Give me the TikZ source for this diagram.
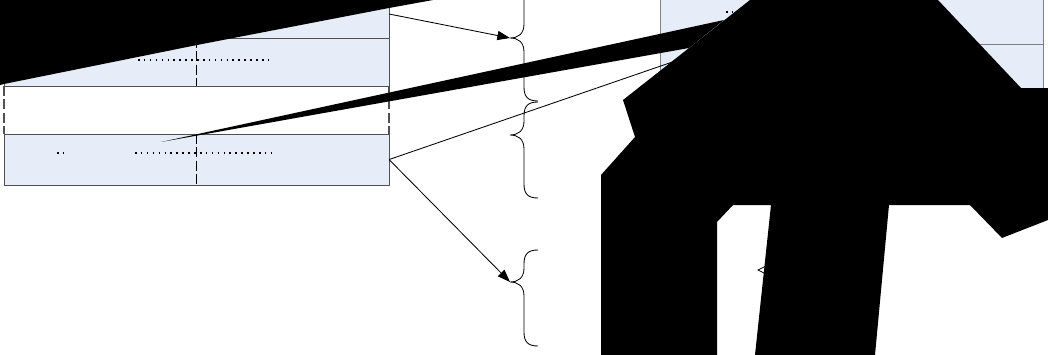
\documentclass[tikz,border=0pt]{standalone}
\usetikzlibrary{arrows.meta,positioning}

\definecolor{rowblue}{RGB}{230,237,248}
\definecolor{rowline}{RGB}{80,80,80}
\definecolor{panelline}{RGB}{128,128,128}

% curly brace opening to the left: top, tip, bottom (y in px)
\newcommand{\curlybrace}[3]{%
  \draw[bracelink] (538,#1) .. controls (528,#1) and (524,#1+4) .. (524,#1+14)
    -- (524,#2-14) .. controls (524,#2-4) and (518,#2) .. (510,#2)
    .. controls (518,#2) and (524,#2+4) .. (524,#2+14)
    -- (524,#3-14) .. controls (524,#3-4) and (528,#3) .. (538,#3);}

\begin{document}
\begin{tikzpicture}[
    x=0.025cm, y=-0.025cm,
    >=Latex,
    rowbox/.style={draw=rowline, line width=0.6pt, fill=rowblue, inner sep=0pt, outer sep=0pt, minimum width=9.625cm, minimum height=1.2cm},
    gapbox/.style={rowbox, draw=none, fill=none},
    panelbox/.style={rowbox, draw=panelline, minimum width=9.575cm},
    dotrule/.style={line width=1.1pt, dash pattern=on 1.1pt off 3.1pt},
    midrule/.style={line width=1.4pt, dash pattern=on 7pt off 2.5pt},
    siderule/.style={line width=0.9pt, dash pattern=on 7pt off 2.5pt, draw=rowline},
    link/.style={line width=0.6pt},
    arrowlink/.style={link, -{Triangle[length=9pt,width=6.5pt]}},
    bracelink/.style={line width=0.6pt},
    blot/.style={fill=black}
]
\useasboundingbox (0,0) rectangle (1048,355);

% left stack of rows
\node[rowbox] (rowA) at (196.5,14) {};
\node[rowbox, below=0pt of rowA] (rowB) {};
\node[gapbox, below=0pt of rowB] (rowC) {};
\node[rowbox, below=0pt of rowC, minimum height=1.275cm] (rowD) {};

\draw[midrule] (rowB.north) -- (rowB.south);
\draw[midrule] (rowD.north) -- (rowD.south);
\draw[siderule] (rowC.north west) -- (rowC.south west);
\draw[siderule] (rowC.north east) -- (rowC.south east);

\draw[dotrule] (138,60) -- (271,60);
\draw[dotrule] (135,153) -- (273,153);
\draw[dotrule] (57,153) -- (63,153);

% right panel
\node[panelbox] (panelA) at (851.5,20) {};
\node[panelbox, below=0pt of panelA] (panelB) {};
\draw[dotrule] (726,12) -- (733,12);

% braces
\curlybrace{-25}{38}{101}
\curlybrace{102}{135}{198}
\curlybrace{250}{282}{346}

\coordinate (tipA) at (510,38);
\coordinate (tipC) at (510,282);
\coordinate (panelhit) at (700,52.5);

\draw[arrowlink] (rowA.east) -- (tipA);
\draw[link] (rowD.east) -- (panelhit);
\draw[arrowlink] (rowD.east) -- (tipC);

\draw[link] (765,266.5) -- (758,270) -- (765,273.5);

% black blots
\fill[blot] (0,0) -- (433,0) -- (389,8) -- (197,45) -- (4,84) -- (0,85) -- cycle;
\fill[blot] (161,142) -- (724,20) -- (689,48) -- cycle;
\fill[blot] (750,0) -- (938,0) -- (1021,88) -- (1048,88) -- (1048,220) -- (1002,238)
  -- (970,205) -- (889,205) -- (875,355) -- (755,355) -- (771,205) -- (733,205)
  -- (717,222) -- (717,355) -- (601,355) -- (601,175) -- (635,137) -- (623,100) -- cycle;
\end{tikzpicture}
\end{document}
